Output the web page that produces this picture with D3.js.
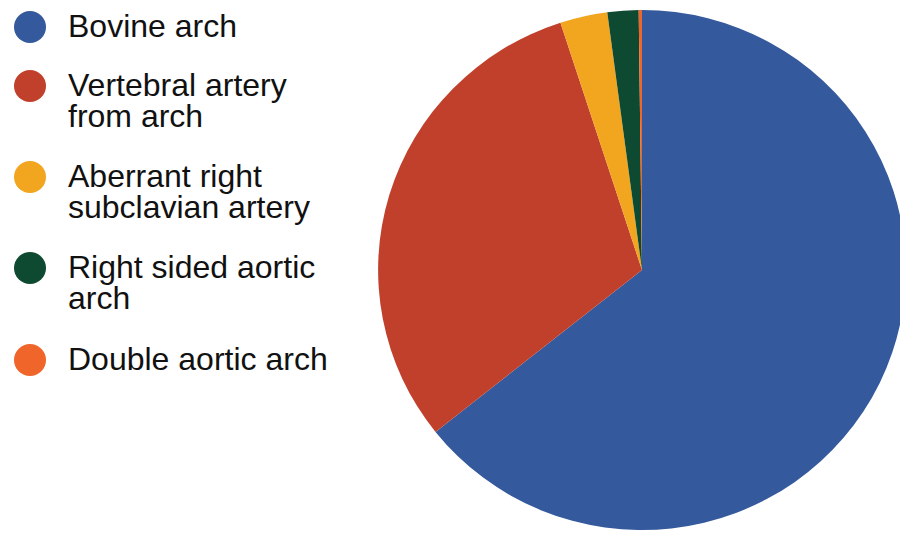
<!DOCTYPE html>
<html>
<head>
<meta charset="utf-8">
<script src="https://cdn.jsdelivr.net/npm/d3@7"></script>
<style>
  body { margin: 0; background: #fff; }
  text { font-family: "Liberation Sans", Arial, sans-serif; fill: #111; }
</style>
</head>
<body>
<svg id="chart"></svg>
<script>
// categories and their share of the pie (percent)
var categories = ["Bovine arch", "Vertebral artery from arch", "Aberrant right subclavian artery", "Right sided aortic arch", "Double aortic arch"];
var values = [64.3, 30.7, 2.9, 1.9, 0.2];
// legend text split into lines as in the picture
var legendLines = [["Bovine arch"], ["Vertebral artery", "from arch"], ["Aberrant right", "subclavian artery"], ["Right sided aortic", "arch"], ["Double aortic arch"]];
var colors = ["#34599c", "#c1402b", "#f2a51f", "#0e4a31", "#f0662a"];

var width = 900, height = 540;

var chart = d3.select('#chart')
    .attr('width', width)
    .attr('height', height);

var data = categories.map(function(c, i) {
    return { name: c, value: values[i], lines: legendLines[i] };
});

var color = d3.scaleOrdinal().domain(categories).range(colors);

// pie, clockwise from 12 o'clock, keep data order
var pie = d3.pie()
    .sort(null)
    .value(function(d) { return d.value; });

var radius = 260;
var arc = d3.arc().innerRadius(0).outerRadius(radius);

var pieG = chart.append('g')
    .attr('transform', 'translate(642,270) scale(1.015,1)');

pieG.selectAll('path')
    .data(pie(data))
    .enter().append('path')
    .attr('d', arc)
    .attr('fill', function(d) { return color(d.data.name); });

// legend
var rowY = d3.scaleOrdinal()
    .domain(categories)
    .range([27, 86, 177, 268, 360]);

var legend = chart.append('g').attr('id', 'legend');

var items = legend.selectAll('.item')
    .data(data)
    .enter().append('g')
    .attr('class', 'item')
    .attr('transform', function(d) { return 'translate(0,' + rowY(d.name) + ')'; });

items.append('circle')
    .attr('cx', 30)
    .attr('cy', 0)
    .attr('r', 16)
    .attr('fill', function(d) { return color(d.name); });

// one text per line
items.selectAll('text')
    .data(function(d) { return d.lines; })
    .enter().append('text')
    .attr('x', 68)
    .attr('y', function(d, i) { return 10 + i * 31; })
    .style('font-size', '32px')
    .text(function(d) { return d; });
</script>
</body>
</html>
